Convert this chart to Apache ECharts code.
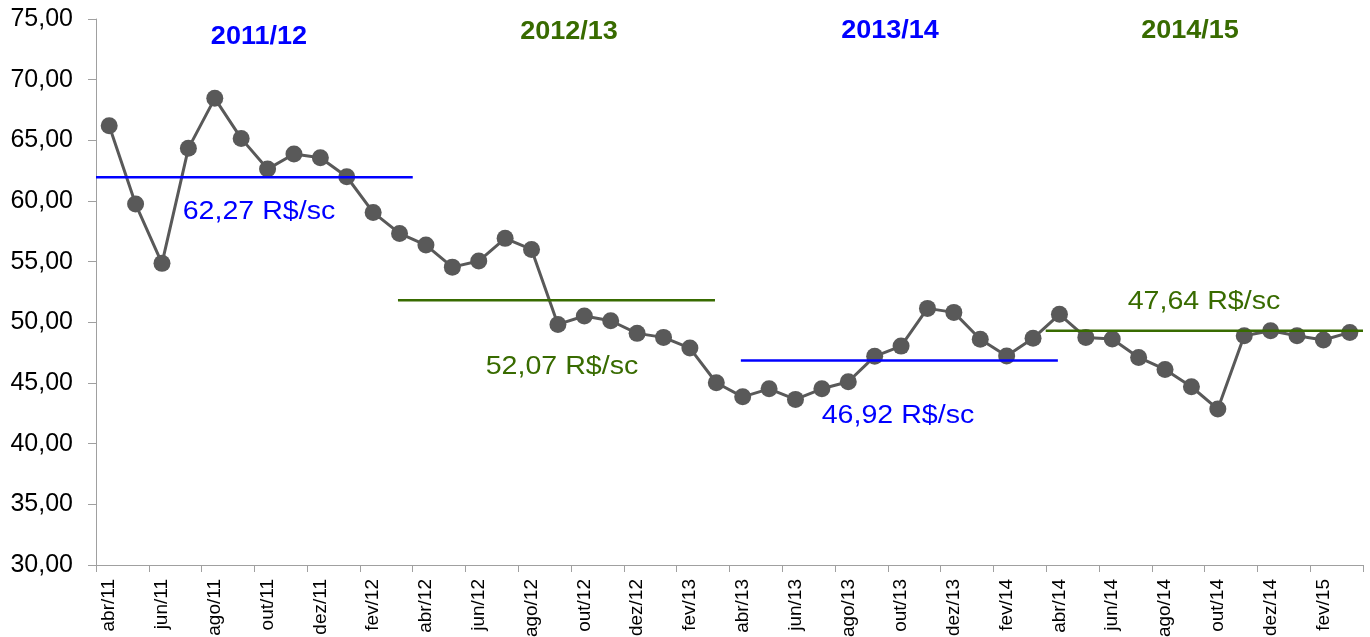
<!DOCTYPE html>
<html>
<head>
<meta charset="utf-8">
<script src="https://cdn.jsdelivr.net/npm/echarts@6/dist/echarts.min.js"></script>
<style>
html,body{margin:0;padding:0;background:#fff;}
#c{width:1370px;height:637px;}
</style>
</head>
<body>
<div id="c"></div>
<script>
const months = [
  'abr/11','mai/11','jun/11','jul/11','ago/11','set/11','out/11','nov/11','dez/11','jan/12','fev/12','mar/12',
  'abr/12','mai/12','jun/12','jul/12','ago/12','set/12','out/12','nov/12','dez/12','jan/13','fev/13','mar/13',
  'abr/13','mai/13','jun/13','jul/13','ago/13','set/13','out/13','nov/13','dez/13','jan/14','fev/14','mar/14',
  'abr/14','mai/14','jun/14','jul/14','ago/14','set/14','out/14','nov/14','dez/14','jan/15','fev/15','mar/15'
];
const prices = [
  66.20,59.75,54.86,64.34,68.46,65.16,62.63,63.87,63.57,62.00,59.06,57.33,
  56.37,54.55,55.05,56.92,56.01,49.83,50.52,50.13,49.09,48.76,47.88,45.02,
  43.86,44.52,43.65,44.52,45.10,47.20,48.04,51.15,50.82,48.60,47.22,48.68,
  50.66,48.76,48.62,47.11,46.12,44.69,42.85,48.89,49.30,48.89,48.54,49.17
];
const seasons = ['2011/12','2012/13','2013/14','2014/15'];
const avgLabels = ['62,27 R$/sc','52,07 R$/sc','46,92 R$/sc','47,64 R$/sc'];
const avgLevels = [61.95, 51.81, 46.85, 49.30];
const avgStart = [-0.5, 10.94, 23.93, 35.48];
const avgEnd = [11.5, 22.95, 35.94, 47.5];
const yTicks = {min: 30, max: 75, interval: 5};

const BLUE = '#0000FF', GREEN = '#386B00';
const seasonColors = [BLUE, GREEN, BLUE, GREEN];
const FONT = '"Liberation Sans", Arial, sans-serif';

const chart = echarts.init(document.getElementById('c'), null, {renderer: 'canvas'});

const avgSeries = avgLevels.map((lv, i) => ({
  type: 'line',
  xAxisIndex: 1,
  yAxisIndex: 0,
  data: [[avgStart[i], lv], [avgEnd[i], lv]],
  symbol: 'none',
  lineStyle: {color: seasonColors[i], width: 2.5},
  z: 5,
  silent: true
}));

const seasonPos = [[259, 37], [569, 32], [890, 31], [1190, 31]];
const labelPos = [[259, 212], [562, 367], [898, 416], [1204, 302]];

const graphics = [];
seasons.forEach((s, i) => {
  graphics.push({
    type: 'text', x: seasonPos[i][0], y: seasonPos[i][1], z: 10, scaleX: 1.04,
    style: {text: s, fill: seasonColors[i], font: 'bold 26px ' + FONT,
      textAlign: 'center', textVerticalAlign: 'middle', align: 'center', verticalAlign: 'middle'}
  });
});
avgLabels.forEach((s, i) => {
  graphics.push({
    type: 'text', x: labelPos[i][0], y: labelPos[i][1], z: 10, scaleX: 1.1,
    style: {text: s, fill: seasonColors[i], font: '26px ' + FONT,
      textAlign: 'center', textVerticalAlign: 'middle', align: 'center', verticalAlign: 'middle'}
  });
});

chart.setOption({
  animation: false,
  backgroundColor: '#ffffff',
  grid: {left: 96, right: 7, top: 19, bottom: 72, containLabel: false, outerBoundsMode: 'none'},
  xAxis: [{
    type: 'category',
    data: months,
    boundaryGap: true,
    axisLine: {show: true, onZero: false, lineStyle: {color: '#A0A0A0', width: 1}},
    axisTick: {show: true, interval: 1, alignWithLabel: false, length: 7, lineStyle: {color: '#A0A0A0'}},
    axisLabel: {interval: 1, rotate: 90, fontSize: 19, color: '#000', fontFamily: FONT, margin: 14, hideOverlap: false},
    splitLine: {show: false}
  }, {
    type: 'value', min: -0.5, max: 47.5, show: false,
    axisLine: {onZero: false}
  }],
  yAxis: {
    type: 'value',
    min: yTicks.min, max: yTicks.max, interval: yTicks.interval,
    axisLine: {show: true, onZero: false, lineStyle: {color: '#A0A0A0', width: 1}},
    axisTick: {show: true, length: 8, lineStyle: {color: '#A0A0A0'}},
    axisLabel: {fontSize: 25, color: '#000', fontFamily: FONT, margin: 23,
      formatter: v => v.toFixed(2).replace('.', ',')},
    splitLine: {show: false}
  },
  series: [{
    type: 'line',
    data: prices,
    symbol: 'circle',
    symbolSize: 17,
    showAllSymbol: true,
    lineStyle: {color: '#595959', width: 3},
    itemStyle: {color: '#595959'},
    z: 3
  }].concat(avgSeries),
  graphic: graphics
});
</script>
</body>
</html>
